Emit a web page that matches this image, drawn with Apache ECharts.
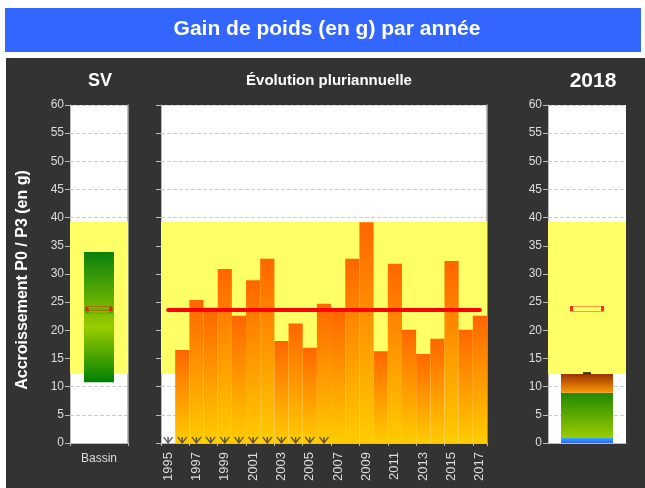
<!DOCTYPE html>
<html>
<head>
<meta charset="utf-8">
<script src="https://cdn.jsdelivr.net/npm/echarts@6/dist/echarts.min.js"></script>
<style>
  html, body { margin: 0; padding: 0; background: #fff; }
  #chart { width: 645px; height: 488px; }
</style>
</head>
<body>
<div id="chart"></div>
<script>
// valeurs
const years = ['1995','1996','1997','1998','1999','2000','2001','2002','2003','2004','2005','2006',
  '2007','2008','2009','2010','2011','2012','2013','2014','2015','2016','2017']
const gains = [null, 16.5, 25.4, 24.0, 30.9, 22.6, 28.9, 32.7, 18.1, 21.2, 16.9, 24.7,
  23.5, 32.7, 39.2, 16.3, 31.8, 20.1, 15.8, 18.5, 32.3, 20.1, 22.6]
const moyenne = [23.6, 23.6, 23.6, 23.6, 23.6, 23.6, 23.6, 23.6, 23.6, 23.6, 23.6, 23.6,
  23.6, 23.6, 23.6, 23.6, 23.6, 23.6, 23.6, 23.6, 23.6, 23.6, 23.6]
const noDataYears = ['1995','1996','1997','1998','1999','2000','2001','2002','2003','2004','2005','2006']
const band = [12.3, 39.3]

const bassinCat = ['Bassin']
const bassinRange = [10.8, 33.9]
const bassinRed = [23.85]
const bassinGreen = [23.4]

const cat2018 = ['2018']
const blue2018 = [0.9]
const green2018 = [8.0]
const orange2018 = [3.35]
const top2018 = [12.4]
const red2018 = [23.85]

const FONT = 'Liberation Sans'
const txt = '#dddddd'

function vgrad(stops) {
  return new echarts.graphic.LinearGradient(0, 0, 0, 1, stops.map(c => ({offset: c[0], color: c[1]})))
}

function yAx(gridIndex, showLabel, name) {
  return {
    gridIndex: gridIndex, type: 'value', min: 0, max: 60, interval: 5,
    name: name || '', nameLocation: 'middle', nameGap: 39,
    nameTextStyle: {color: '#fff', fontSize: 16, fontWeight: 'bold', fontFamily: FONT, padding: [0, 12, 0, 0]},
    axisLine: {show: true, lineStyle: {color: '#bbb'}},
    axisTick: {show: true, length: 5, lineStyle: {color: '#bbb'}},
    axisLabel: {show: showLabel, color: txt, fontSize: 12, fontFamily: FONT, margin: 6},
    splitLine: {show: true, lineStyle: {color: '#cccccc', type: 'dashed'}}
  }
}

// bord droit gris des zones de tracé
function rightBorder(gridIndex) {
  return {
    gridIndex: gridIndex, type: 'value', min: 0, max: 60, position: 'right',
    axisLine: {show: true, lineStyle: {color: '#aaa', width: 1.5}},
    axisTick: {show: false}, axisLabel: {show: false}, splitLine: {show: false}
  }
}

function xAx(gridIndex, data, extra) {
  return Object.assign({
    gridIndex: gridIndex, type: 'category', data: data,
    axisLine: {show: true, lineStyle: {color: '#bbb'}},
    axisTick: {show: true, length: 3, lineStyle: {color: '#bbb'}},
    axisLabel: {color: txt, fontSize: 12, fontFamily: FONT, margin: 10},
    splitLine: {show: false}
  }, extra || {})
}

function bandSeries(xi, yi) {
  return {
    type: 'line', xAxisIndex: xi, yAxisIndex: yi, data: [], z: 1, silent: true,
    markArea: {
      silent: true,
      itemStyle: {color: '#ffff66'},
      data: [[{yAxis: band[0]}, {yAxis: band[1]}]]
    }
  }
}

const asterisk = 'path://M0,0 L5,6 L10,0 M5,0 L5,6'

var chart = echarts.init(document.getElementById('chart'))

let option = {
  animation: false,
  graphic: [
    {type: 'rect', z: -10, shape: {x: 6, y: 58, width: 639, height: 430}, style: {fill: '#333333'}},
    {type: 'rect', z: -10, shape: {x: 5, y: 8, width: 636, height: 44}, style: {fill: '#3366ff'}}
  ],
  title: [
    {text: 'Gain de poids (en g) par année', left: 322, top: 14, textAlign: 'center',
      textStyle: {color: '#fff', fontSize: 21, fontWeight: 'bold', fontFamily: FONT}},
    {text: 'SV', left: 95, top: 67, textAlign: 'center',
      textStyle: {color: '#fff', fontSize: 18, fontWeight: 'bold', fontFamily: FONT}},
    {text: 'Évolution pluriannuelle', left: 324, top: 68, textAlign: 'center',
      textStyle: {color: '#fff', fontSize: 15, fontWeight: 'bold', fontFamily: FONT}},
    {text: '2018', left: 588, top: 66, textAlign: 'center',
      textStyle: {color: '#fff', fontSize: 21, fontWeight: 'bold', fontFamily: FONT}}
  ],
  grid: [
    {left: 70, top: 105, width: 58, bottom: 45, show: true, backgroundColor: '#fff', borderWidth: 0},
    {left: 161, top: 105, width: 326, bottom: 45, show: true, backgroundColor: '#fff', borderWidth: 0},
    {left: 548, top: 105, width: 78, bottom: 45, show: true, backgroundColor: '#fff', borderWidth: 0}
  ],
  xAxis: [
    xAx(0, bassinCat),
    xAx(1, years, {axisLabel: {color: txt, fontSize: 13, fontFamily: FONT, rotate: 90, interval: 1, margin: 9}}),
    xAx(2, cat2018, {axisLabel: {show: false}, axisTick: {show: false}})
  ],
  yAxis: [
    yAx(0, true, 'Accroissement P0 / P3 (en g)'),
    yAx(1, false),
    yAx(2, true),
    rightBorder(0),
    rightBorder(1)
  ],
  series: [
    bandSeries(0, 0),
    bandSeries(1, 1),
    bandSeries(2, 2),
    // SV - bassin
    {type: 'bar', xAxisIndex: 0, yAxisIndex: 0, stack: 'sv', barWidth: 30, z: 3,
      itemStyle: {color: 'transparent'}, data: [bassinRange[0]]},
    {type: 'bar', xAxisIndex: 0, yAxisIndex: 0, stack: 'sv', barWidth: 30, z: 3,
      itemStyle: {color: vgrad([[0, '#0a800a'], [0.58, '#99cc00'], [1, '#008000']])},
      data: [bassinRange[1] - bassinRange[0]]},
    {type: 'scatter', xAxisIndex: 0, yAxisIndex: 0, z: 5, symbol: 'rect', symbolSize: [24, 4],
      itemStyle: {color: 'rgba(0,0,0,0)', borderColor: '#33aa00', borderWidth: 1.5}, data: bassinGreen},
    {type: 'scatter', xAxisIndex: 0, yAxisIndex: 0, z: 6, symbol: 'rect', symbolSize: [24, 4],
      itemStyle: {color: 'rgba(0,0,0,0)', borderColor: '#ff0000', borderWidth: 1.2}, data: bassinRed},
    // évolution pluriannuelle
    {type: 'bar', xAxisIndex: 1, yAxisIndex: 1, barCategoryGap: '0%', z: 3,
      itemStyle: {color: vgrad([[0, '#ff6600'], [1, '#ffcc00']])}, data: gains},
    {type: 'line', xAxisIndex: 1, yAxisIndex: 1, z: 5, symbol: 'none',
      lineStyle: {color: '#ff0000', width: 4, cap: 'round'}, data: moyenne},
    {type: 'scatter', xAxisIndex: 1, yAxisIndex: 1, z: 6, symbol: asterisk, symbolSize: [9, 6],
      symbolOffset: [0, -3],
      itemStyle: {color: 'rgba(0,0,0,0)', borderColor: '#333', borderWidth: 1.2},
      data: noDataYears.map(y => [y, 0])},
    // 2018
    {type: 'bar', xAxisIndex: 2, yAxisIndex: 2, stack: 'y18', barWidth: 52, z: 3,
      itemStyle: {color: vgrad([[0, '#33aaff'], [1, '#3366ee']])}, data: blue2018},
    {type: 'bar', xAxisIndex: 2, yAxisIndex: 2, stack: 'y18', barWidth: 52, z: 3,
      itemStyle: {color: vgrad([[0, '#228800'], [1, '#99cc00']])}, data: green2018},
    {type: 'bar', xAxisIndex: 2, yAxisIndex: 2, stack: 'y18', barWidth: 52, z: 3,
      itemStyle: {color: vgrad([[0, '#993300'], [1, '#ff9900']])}, data: orange2018},
    {type: 'scatter', xAxisIndex: 2, yAxisIndex: 2, z: 6, symbol: 'rect', symbolSize: [8, 2],
      itemStyle: {color: '#000'}, data: top2018},
    {type: 'scatter', xAxisIndex: 2, yAxisIndex: 2, z: 6, symbol: 'rect', symbolSize: [31, 5],
      itemStyle: {color: 'rgba(0,0,0,0)', borderColor: '#ff0000', borderWidth: 1.2}, data: red2018}
  ]
}
chart.setOption(option)
</script>
</body>
</html>
